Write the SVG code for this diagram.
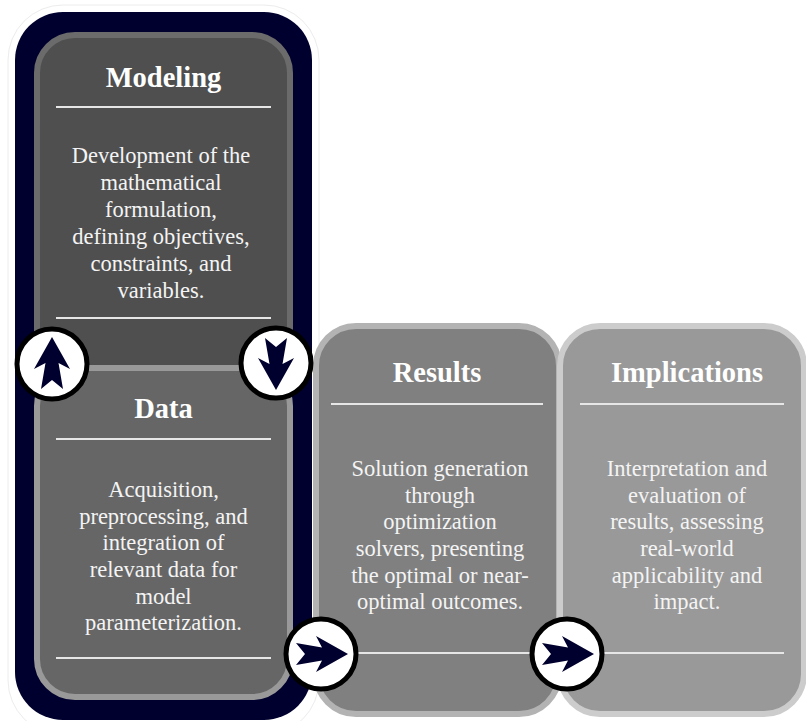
<svg xmlns="http://www.w3.org/2000/svg" xmlns:xlink="http://www.w3.org/1999/xlink" width="806" height="721" viewBox="0 0 806 721">
<style>
.title{font-family:"Liberation Serif","Times New Roman",serif;font-weight:bold;font-size:28.5px;fill:#ffffff;text-anchor:middle}
.desc{font-family:"Liberation Serif","Times New Roman",serif;font-size:22.5px;fill:#f4f4f4;text-anchor:middle}
.rule{stroke:#e6e6e6;stroke-width:2}
.ring{fill:#ffffff;stroke:#000000;stroke-width:5}
.arrow{fill:#00002e}
</style>
<defs>
<path id="arr" d="M0,-27 L18,5 L6.5,-1 L11,25 L0,16 L-11,25 L-6.5,-1 L-18,5 Z"/>
</defs>
<rect width="806" height="721" fill="#ffffff"/>
<g id="frame">
<rect x="8" y="5" width="311" height="730" rx="55" fill="none" stroke="#ececec" stroke-width="1"/>
<rect x="15" y="12" width="297" height="708" rx="48" fill="#00002e"/>
</g>
<g id="modeling">
<rect x="37" y="35" width="253" height="360" rx="38" fill="#4f4f4f" stroke="#6b6b6b" stroke-width="6"/>
<text class="title" x="163.5" y="87">Modeling</text>
<line class="rule" x1="56" y1="107" x2="271" y2="107"/>
<text class="desc" x="161" y="163">Development of the</text>
<text class="desc" x="161" y="190">mathematical</text>
<text class="desc" x="161" y="217">formulation,</text>
<text class="desc" x="161" y="244">defining objectives,</text>
<text class="desc" x="161" y="271">constraints, and</text>
<text class="desc" x="161" y="298">variables.</text>
<line class="rule" x1="56" y1="318" x2="271" y2="318"/>
</g>
<g id="data">
<rect x="37" y="368" width="253" height="329" rx="38" fill="#666666" stroke="#999999" stroke-width="6"/>
<text class="title" x="163.5" y="418">Data</text>
<line class="rule" x1="56" y1="439" x2="271" y2="439"/>
<text class="desc" x="163.5" y="497">Acquisition,</text>
<text class="desc" x="163.5" y="524">preprocessing, and</text>
<text class="desc" x="163.5" y="550">integration of</text>
<text class="desc" x="163.5" y="577">relevant data for</text>
<text class="desc" x="163.5" y="604">model</text>
<text class="desc" x="163.5" y="630">parameterization.</text>
<line class="rule" x1="56" y1="658" x2="271" y2="658"/>
</g>
<g id="results">
<rect x="316" y="326" width="243" height="388" rx="40" fill="#808080" stroke="#b3b3b3" stroke-width="6"/>
<text class="title" x="437" y="382">Results</text>
<line class="rule" x1="331" y1="404" x2="543" y2="404"/>
<text class="desc" x="440" y="476">Solution generation</text>
<text class="desc" x="440" y="503">through</text>
<text class="desc" x="440" y="529">optimization</text>
<text class="desc" x="440" y="556">solvers, presenting</text>
<text class="desc" x="440" y="583">the optimal or near-</text>
<text class="desc" x="440" y="609">optimal outcomes.</text>
<line class="rule" x1="331" y1="653" x2="543" y2="653"/>
</g>
<g id="implications">
<rect x="560" y="326" width="244" height="388" rx="40" fill="#999999" stroke="#cccccc" stroke-width="6"/>
<text class="title" x="687" y="382">Implications</text>
<line class="rule" x1="580" y1="404" x2="784" y2="404"/>
<text class="desc" x="687" y="476">Interpretation and</text>
<text class="desc" x="687" y="503">evaluation of</text>
<text class="desc" x="687" y="529">results, assessing</text>
<text class="desc" x="687" y="556">real-world</text>
<text class="desc" x="687" y="583">applicability and</text>
<text class="desc" x="687" y="609">impact.</text>
<line class="rule" x1="580" y1="653" x2="784" y2="653"/>
</g>
<g id="connectors">
<g transform="translate(52,364)"><circle class="ring" r="35"/><use xlink:href="#arr" class="arrow"/></g>
<g transform="translate(276,363) rotate(180)"><circle class="ring" r="35"/><use xlink:href="#arr" class="arrow"/></g>
<g transform="translate(321,654) rotate(90)"><circle class="ring" r="35"/><use xlink:href="#arr" class="arrow"/></g>
<g transform="translate(567,654) rotate(90)"><circle class="ring" r="35"/><use xlink:href="#arr" class="arrow"/></g>
</g>
</svg>
